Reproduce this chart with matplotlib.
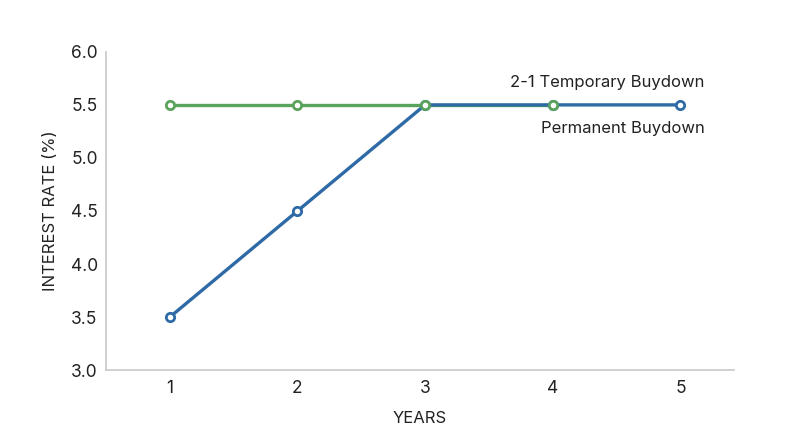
import matplotlib
matplotlib.use("Agg")
import matplotlib.pyplot as plt

plt.rcParams["font.family"] = ["Inter", "DejaVu Sans"]

years_temp = [1, 2, 3, 4]
rate_temp = [5.5, 5.5, 5.5, 5.5]
years_perm = [1, 2, 3, 4, 5]
rate_perm = [3.5, 4.5, 5.5, 5.5, 5.5]
x_ticks = [1, 2, 3, 4, 5]
y_ticks = [3.0, 3.5, 4.0, 4.5, 5.0, 5.5, 6.0]

green = "#5aa35c"
blue = "#2d6aa6"
text_col = "#222222"

fig = plt.figure(figsize=(8, 4.47), dpi=100)
ax = fig.add_axes([0.1325, 0.172, 0.785, 0.712])

ax.plot(years_temp, rate_temp, color=green, lw=2.4, zorder=2)
ax.plot(years_perm, rate_perm, color=blue, lw=2.4, marker="o", ms=6,
        mfc="white", mec=blue, mew=2, zorder=3)
ax.plot(years_temp, rate_temp, ls="none", marker="o", ms=6,
        mfc="white", mec=green, mew=2, zorder=4)

ax.text(5.19, 5.71, "2-1 Temporary Buydown", ha="right", va="center",
        fontsize=12, color=text_col)
ax.text(5.19, 5.28, "Permanent Buydown", ha="right", va="center",
        fontsize=12, color=text_col)

ax.set_xlim(0.5, 5.42)
ax.set_ylim(3.0, 6.0)
ax.set_xticks(x_ticks)
ax.set_yticks(y_ticks)
ax.set_yticklabels([f"{v:.1f}" for v in y_ticks])
ax.tick_params(length=0, labelsize=12.5, colors=text_col)
ax.tick_params(axis="y", pad=6)
ax.tick_params(axis="x", pad=7)

for s in ["top", "right"]:
    ax.spines[s].set_visible(False)
for s in ["left", "bottom"]:
    ax.spines[s].set_color("#c8c8c8")
    ax.spines[s].set_linewidth(1.2)

ax.set_xlabel("YEARS", fontsize=12, color=text_col, labelpad=10)
ax.set_ylabel("INTEREST RATE (%)", fontsize=12, color=text_col, labelpad=9)

fig.savefig("out.png", dpi=100)
